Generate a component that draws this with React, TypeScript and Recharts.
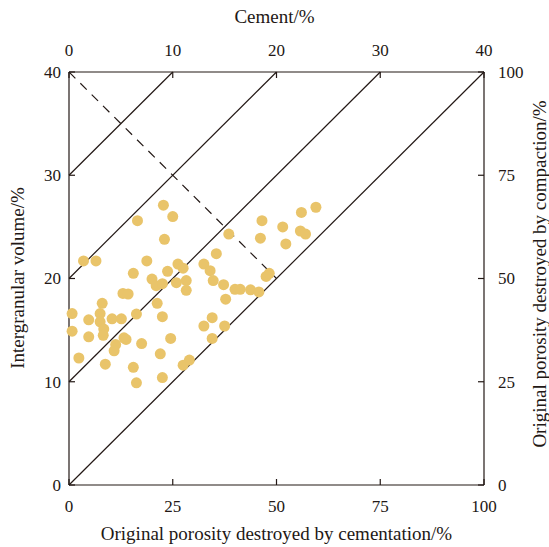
import { ScatterChart, Scatter, XAxis, YAxis, ReferenceLine } from "recharts";

// cement (%) vs intergranular volume (%)
const cement = [
  1.4, 2.6, 6.6, 9.1, 10.0, 9.2, 7.5, 6.2, 9.5, 10.5, 11.0, 8.0, 8.4, 9.0, 10.35, 11.3,
  11.3, 5.2, 5.7, 3.2, 0.3, 1.9, 3.0, 3.0, 4.15, 5.05, 6.5, 8.5, 9.0, 0.3, 1.9, 3.35,
  3.3, 4.5, 5.3, 5.5, 4.35, 7.0, 9.8, 8.8, 0.95, 3.5, 6.2, 6.5, 9.0, 11.0, 11.6, 13.0,
  14.2, 13.6, 13.9, 14.9, 16.0, 16.5, 17.5, 18.3, 15.1, 15.4, 18.6, 18.45, 20.6, 20.9,
  22.4, 23.8, 22.3, 22.8, 19.0, 19.3, 13.8, 13.0, 15.0, 13.8,
];
const intergranular = [
  21.7, 21.7, 25.6, 27.1, 26.0, 23.8, 21.7, 20.5, 20.7, 21.4, 21.0, 19.95, 19.3, 19.5, 19.6, 19.8,
  18.85, 18.55, 18.5, 17.6, 16.6, 16.0, 16.6, 15.8, 16.1, 16.1, 16.55, 17.6, 16.3, 14.9, 14.35, 15.1,
  14.5, 13.6, 14.25, 14.1, 13.0, 13.7, 14.2, 12.7, 12.3, 11.7, 11.4, 9.9, 10.4, 11.6, 12.1, 21.4,
  22.4, 20.76, 19.8, 19.4, 18.95, 18.95, 18.9, 18.7, 18.0, 24.3, 25.6, 23.9, 25.0, 23.35,
  26.4, 26.9, 24.6, 24.3, 20.2, 20.5, 16.2, 15.4, 15.4, 14.2,
];

const cementTicks = [0, 10, 20, 30, 40];
const porosityTickLabels = ["0", "25", "50", "75", "100"];
// IGV = cement + offset
const lineOffsets = [30, 20, 10, 0];
const compactionLine = [
  { x: 0, y: 40 },
  { x: 20, y: 20 },
];

const points = cement.map((c, i) => ({ x: c, y: intergranular[i] }));

const ink = "#231815";
const dotColor = "#E9C46A";
const font = "Liberation Serif, Times New Roman, serif";

const porosityLabel = (v: number) => porosityTickLabels[cementTicks.indexOf(v)] ?? "";

// custom tick so the serif font is applied
const makeTick = (dy: string, fmt?: (v: number) => string) => (p: any) => (
  <text
    x={p.x}
    y={p.y}
    dy={dy}
    textAnchor={p.textAnchor}
    fill={ink}
    fontFamily={font}
    fontSize={17}
    style={{ fontFamily: font, fontSize: 17 }}
  >
    {fmt ? fmt(p.payload.value) : p.payload.value}
  </text>
);

export default function App() {
  return (
    <div style={{ position: "absolute", left: 0, top: 0, width: 549, height: 547, fontFamily: font, color: ink }}>
      <ScatterChart
        width={549}
        height={547}
        margin={{ top: 12, right: 15, bottom: 12, left: 15 }}
        style={{ fontFamily: font }}
      >
        <XAxis
          xAxisId="bottom"
          dataKey="x"
          type="number"
          domain={[0, 40]}
          ticks={cementTicks}
          height={50}
          stroke={ink}
          strokeWidth={1.2}
          tickSize={-6}
          tickMargin={17}
          tick={makeTick("16", porosityLabel)}
          interval={0}
        />
        <XAxis
          xAxisId="top"
          dataKey="x"
          orientation="top"
          type="number"
          domain={[0, 40]}
          allowDataOverflow
          ticks={cementTicks}
          height={60}
          stroke={ink}
          strokeWidth={1.2}
          tickSize={-6}
          tickMargin={20}
          tick={makeTick("-2")}
          interval={0}
        />
        <YAxis
          yAxisId="left"
          dataKey="y"
          type="number"
          domain={[0, 40]}
          ticks={cementTicks}
          width={54}
          stroke={ink}
          strokeWidth={1.2}
          tickSize={-6}
          tickMargin={14}
          tick={makeTick("0.35em")}
          interval={0}
        />
        <YAxis
          yAxisId="right"
          dataKey="y"
          orientation="right"
          type="number"
          domain={[0, 40]}
          allowDataOverflow
          ticks={cementTicks}
          width={50}
          stroke={ink}
          strokeWidth={1.2}
          tickSize={-6}
          tickMargin={20}
          tick={makeTick("0.35em", porosityLabel)}
          interval={0}
        />
        {lineOffsets.map((o) => (
          <ReferenceLine
            key={o}
            xAxisId="bottom"
            yAxisId="left"
            segment={[
              { x: 0, y: o },
              { x: 40 - o, y: 40 },
            ]}
            stroke={ink}
            strokeWidth={1.2}
          />
        ))}
        {/* compaction/cementation divide, drawn on the cement (top) axis */}
        <Scatter
          xAxisId="top"
          yAxisId="right"
          data={compactionLine}
          line={{ stroke: ink, strokeWidth: 1.2, strokeDasharray: "9 7" }}
          lineType="joint"
          shape={() => <g />}
          isAnimationActive={false}
        />
        <Scatter
          xAxisId="bottom"
          yAxisId="left"
          data={points}
          fill={dotColor}
          isAnimationActive={false}
          shape={(p: any) => <circle cx={p.cx} cy={p.cy} r={5.5} fill={dotColor} />}
        />
      </ScatterChart>
      <div style={{ position: "absolute", left: 0, width: 549, top: 6, textAlign: "center", fontSize: 19 }}>
        Cement/%
      </div>
      <div style={{ position: "absolute", left: 69, width: 415, top: 523, textAlign: "center", fontSize: 19 }}>
        Original porosity destroyed by cementation/%
      </div>
      <div
        style={{
          position: "absolute",
          left: 18,
          top: 278,
          whiteSpace: "nowrap",
          fontSize: 19,
          transform: "translate(-50%, -50%) rotate(-90deg)",
        }}
      >
        Intergranular volume/%
      </div>
      <div
        style={{
          position: "absolute",
          left: 540,
          top: 274,
          whiteSpace: "nowrap",
          fontSize: 19,
          transform: "translate(-50%, -50%) rotate(-90deg)",
        }}
      >
        Original porosity destroyed by compaction/%
      </div>
    </div>
  );
}
